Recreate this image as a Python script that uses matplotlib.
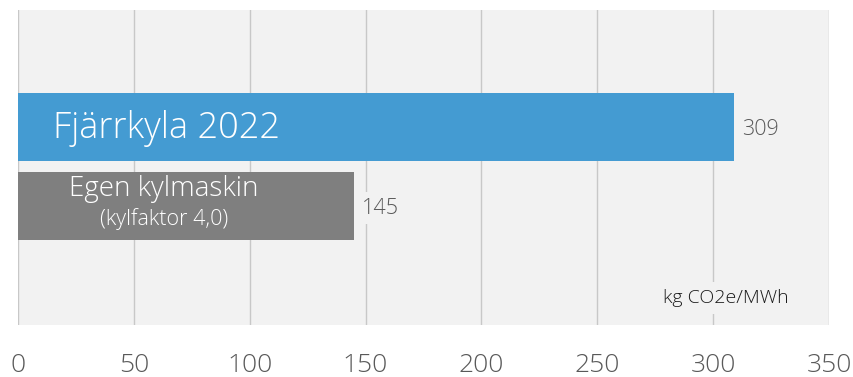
import matplotlib.pyplot as plt

# Data
categories = ["Fjärrkyla 2022", "Egen kylmaskin"]
subtitles = ["", "(kylfaktor 4,0)"]
values = [309, 145]
colors = ["#449bd2", "#7f7f7f"]
xticks = [0, 50, 100, 150, 200, 250, 300, 350]
unit = "kg CO2e/MWh"

plt.rcParams['font.family'] = ['Open Sans', 'DejaVu Sans']
plt.rcParams['font.weight'] = 'light'

fig = plt.figure(figsize=(8.54, 3.77), dpi=100)
ax = fig.add_axes([18/854, 1 - 325/377, (829 - 18)/854, (325 - 10)/377])
ax.set_facecolor("#f2f2f2")

pos = [0, 1]
ax.barh(pos, values, height=0.86, color=colors, zorder=2)

ax.set_xlim(0, 350)
ax.set_ylim(2.506, -1.481)
ax.set_xticks(xticks)
ax.set_yticks([])
ax.tick_params(axis='x', length=0, pad=20, labelsize=19, labelcolor="#595959")
for s in ax.spines.values():
    s.set_visible(False)
ax.grid(axis='x', color="#c8c8c8", linewidth=1, zorder=1)

# bar texts
ax.text(15, 0.02, categories[0], color="white", fontsize=26, va='center', ha='left', zorder=3)
ax.text(63, 0.79, categories[1], color="white", fontsize=20, va='center', ha='center', zorder=3)
ax.text(63, 1.17, subtitles[1], color="white", fontsize=15.5, va='center', ha='center', zorder=3)

# value labels
for p, v in zip(pos, values):
    ax.text(v + 3.5, p + 0.03, str(v), color="#595959", fontsize=15.5, va='center', ha='left',
            zorder=3, bbox=dict(facecolor="#f2f2f2", edgecolor='none', pad=4))

ax.text(332.5, 2.17, unit, color="#1a1a1a", fontsize=14,
        va='center', ha='right', zorder=3,
        bbox=dict(facecolor="#f2f2f2", edgecolor='none', pad=5))

fig.savefig("out.png", dpi=100)
